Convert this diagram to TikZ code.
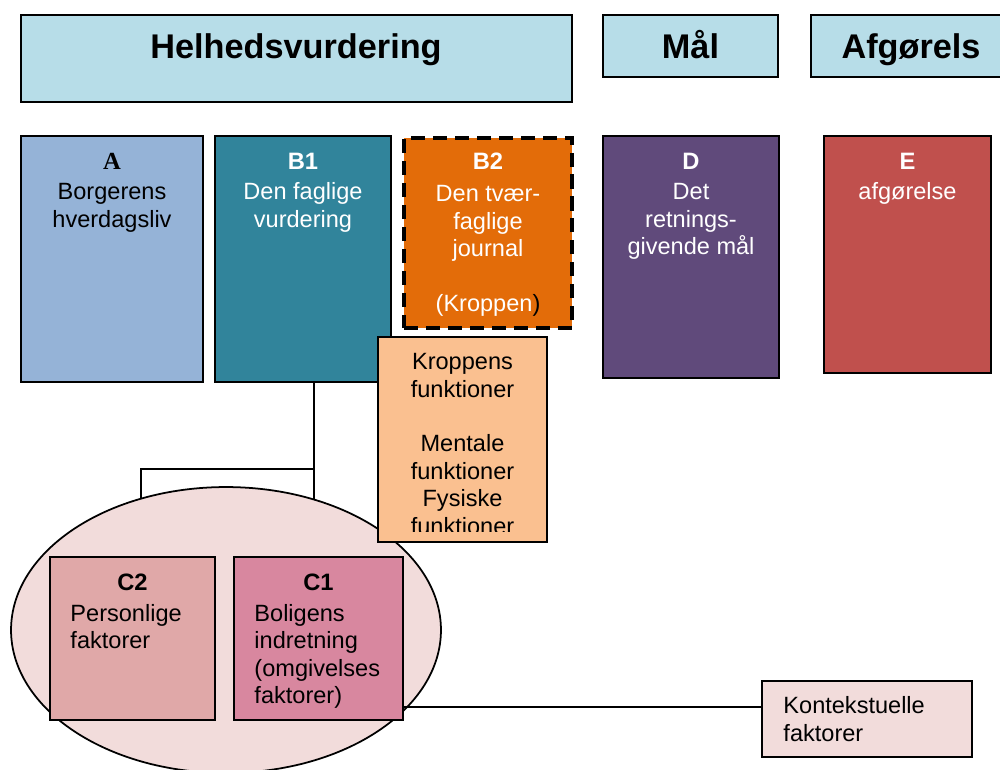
\documentclass[tikz,border=0pt]{standalone}
\usepackage{fontspec}
\setmainfont{Liberation Sans}
\newfontfamily\timesfont{Liberation Serif}
\usetikzlibrary{positioning,fit,shapes.geometric}

\definecolor{headblue}{HTML}{B7DDE8}
\definecolor{colA}{HTML}{95B3D7}
\definecolor{colB1}{HTML}{31849B}
\definecolor{colB2}{HTML}{E36C09}
\definecolor{colKrop}{HTML}{FAC090}
\definecolor{colD}{HTML}{604A7B}
\definecolor{colE}{HTML}{C0504D}
\definecolor{colC2}{HTML}{E0A8A8}
\definecolor{colC1}{HTML}{D8879F}
\definecolor{rosa}{HTML}{F2DCDB}

\newcommand\colhead[1]{{\fontsize{13.5}{15.6}\selectfont\bfseries #1}}

\tikzset{
  box/.style={draw=black, line width=1pt, inner sep=0pt},
  headtext/.style={font=\fontsize{19.5}{23}\selectfont\bfseries, text height=14pt, text depth=0pt, inner sep=0pt},
  bodytext/.style={font=\fontsize{13.4}{15.6}\selectfont, align=center, inner sep=0pt},
  leftbody/.style={bodytext, align=left},
  tag/.style={font=\fontsize{13.5}{15.6}\selectfont\bfseries, inner sep=0pt},
  link/.style={line width=0.8pt}
}

\begin{document}
\begin{tikzpicture}[x=0.02cm, y=-0.02cm]
    \useasboundingbox (0,0) rectangle (1000,769);
    \clip (0,0) rectangle (1000,769);

    % Header row
    \node[box, fill=headblue, fit={(21,15) (572,102)}] (helhed) {};
    \node[headtext] (helhedtxt) at (296,46) {Helhedsvurdering};
    \node[box, fill=headblue, fit={(603,15) (778,77)}] (maal) {};
    \node[headtext] (maaltxt) at (maal.center) {Mål};
    \node[box, fill=headblue, fit={(811,15) (1011,77)}] (afg) {};
    \node[headtext] (afgtxt) at (afg.center) {Afgørels};

    % Columns A, B1, B2
    \node[box, fill=colA, fit={(21,136) (203,382)}] (a) {};
    \node[bodytext, below=0.35cm of a.north] (atxt)
        {{\timesfont\bfseries\fontsize{14}{15.6}\selectfont A}\\[1.7pt]Borgerens\\hverdagsliv};

    \node[box, fill=colB1, fit={(215,136) (391,382)}] (b1) {};
    \node[bodytext, text=white, below=0.35cm of b1.north] (b1txt)
        {\colhead{B1}\\[1.7pt]Den faglige\\vurdering};

    \node[box, fill=colB2, line width=1.8pt, dash pattern=on 8pt off 4.5pt, fit={(404,138) (572,328)}] (b2) {};
    \node[bodytext, text=white, below=0.33cm of b2.north] (b2txt)
        {\colhead{B2}\\[2.5pt]Den tvær-\\faglige\\journal\\[15.6pt](Kroppen\textcolor{black}{)}};

    % Columns D and E
    \node[box, fill=colD, fit={(603,136) (779,378)}] (d) {};
    \node[bodytext, text=white, below=0.35cm of d.north] (dtxt)
        {\colhead{D}\\[1.7pt]Det\\retnings-\\givende mål};

    \node[box, fill=colE, fit={(824,136) (991,373)}] (e) {};
    \node[bodytext, text=white, below=0.35cm of e.north] (etxt)
        {\colhead{E}\\[1.7pt]afgørelse};

    % Lines from B1 down to the ellipse
    \coordinate (fork) at (314,469);
    \coordinate (forkl) at (141,469);
    \coordinate (ellc) at (226,630);
    \draw[link] (b1.south -| fork) -- (fork |- ellc);
    \draw[link] (fork) -- (forkl) -- (forkl |- ellc);

    % Ellipse with C1 and C2
    \node[ellipse, draw=black, line width=1pt, fill=rosa, minimum width=8.6cm, minimum height=5.72cm, inner sep=0pt] (ell) at (ellc) {};

    \node[box, fill=colC2, fit={(50,557) (215,720)}] (c2) {};
    \node[tag, below=0.35cm of c2.north] (c2tag) {C2};
    \node[leftbody, below right=0.96cm and 0.42cm of c2.north west] (c2txt) {Personlige\\faktorer};

    \node[box, fill=colC1, fit={(234,557) (403,720)}] (c1) {};
    \node[tag, below=0.35cm of c1.north] (c1tag) {C1};
    \node[leftbody, below right=0.96cm and 0.42cm of c1.north west] (c1txt)
        {Boligens\\indretning\\(omgivelses\\faktorer)};

    % Kroppens funktioner
    \node[box, fill=colKrop, fit={(378,337) (547,542)}] (krop) {};
    \begin{scope}
        \clip (krop.north west) rectangle ([yshift=0.22cm]krop.south east);
        \node[bodytext, below=0.34cm of krop.north] (kroptxt)
            {Kroppens\\funktioner\\[15.6pt]Mentale\\funktioner\\Fysiske\\funktioner};
    \end{scope}

    % Kontekstuelle faktorer
    \node[box, fill=rosa, fit={(762,681) (972,757)}] (kont) {};
    \node[leftbody, right=0.44cm of kont.west] (konttxt) {Kontekstuelle\\faktorer};
    \coordinate (kin) at ([yshift=0.24cm]kont.west);
    \draw[link] (kin -| c1.east) -- (kin);
\end{tikzpicture}
\end{document}
